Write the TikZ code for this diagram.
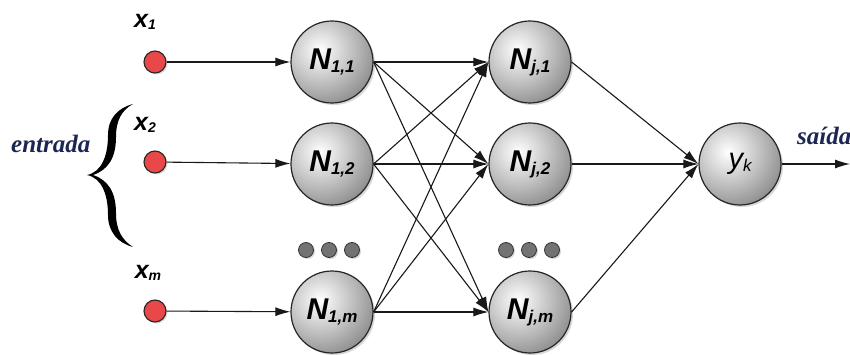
\documentclass[tikz,border=0pt]{standalone}
\usepackage{fontspec}
\setmainfont{Liberation Serif}
\newfontfamily\lsans{Liberation Sans}
\usetikzlibrary{arrows.meta,shadows}
\newcommand\nsub[1]{\raisebox{-3pt}{\fontsize{17}{17}\selectfont #1}}
\newcommand\xsub[1]{\raisebox{-2pt}{\fontsize{14}{14}\selectfont #1}}
\tikzset{
  neuron/.style={circle, draw=black!85, line width=1.2pt, minimum size=82pt, inner sep=0pt,
    drop shadow={opacity=0.3,shadow xshift=2pt,shadow yshift=-2pt},
    path picture={\shade[inner color=white, outer color=black!55]
      ([xshift=-12pt,yshift=12pt]path picture bounding box.center) circle (72pt);},
    font=\lsans\bfseries\itshape\fontsize{30}{30}\selectfont},
  inp/.style={circle, draw=black!85, line width=1.1pt, minimum size=22pt, inner sep=0pt,
    fill={rgb,255:red,232;green,72;blue,72},
    drop shadow={opacity=0.3,shadow xshift=1.5pt,shadow yshift=-1.5pt}},
  dotn/.style={circle, draw=black!80, line width=0.8pt, minimum size=15pt, inner sep=0pt,
    fill=black!55, drop shadow={opacity=0.3,shadow xshift=1.5pt,shadow yshift=-1.5pt}},
  xlab/.style={anchor=base, inner sep=0pt, font=\lsans\bfseries\itshape\fontsize{25}{25}\selectfont},
  wlab/.style={anchor=base west, inner sep=0pt, text={rgb,255:red,28;green,38;blue,82},
    font=\bfseries\itshape\fontsize{25}{25}\selectfont},
  conn/.style={line width=1.1pt, draw=black!90, -{Latex[length=15pt,width=9pt]}}
}
\begin{document}
\begin{tikzpicture}[x=1pt,y=-1pt]
\useasboundingbox[fill=white] (0,0) rectangle (850,355);

% brace
\fill[black] (133,104)
  .. controls (118,108) and (108,118) .. (108,135)
  .. controls (108,155) and (102,172) .. (87,175)
  .. controls (102,178) and (108,195) .. (108,215)
  .. controls (108,232) and (118,243) .. (133,247)
  .. controls (122,240) and (116,230) .. (116,213)
  .. controls (116,192) and (108,180) .. (93,175)
  .. controls (108,170) and (116,158) .. (116,137)
  .. controls (116,120) and (122,110) .. (133,104) -- cycle;

\node[wlab] (ent) at (11,153) {entrada};

% inputs
\node[inp] (i1) at (155,62) {};
\node[inp] (i2) at (155,162) {};
\node[inp] (im) at (155,311) {};
\node[xlab] (l1) at (145,28) {x\xsub{1}};
\node[xlab] (l2) at (145,131) {x\xsub{2}};
\node[xlab] (lm) at (148,278) {x\xsub{m}};

% hidden layer 1
\node[neuron] (a1) at (332,62) {N\nsub{1,1}};
\node[neuron] (a2) at (332,164) {N\nsub{1,2}};
\node[neuron] (am) at (332,312) {N\nsub{1,m}};
% hidden layer j
\node[neuron] (b1) at (530,62) {N\nsub{j,1}};
\node[neuron] (b2) at (530,164) {N\nsub{j,2}};
\node[neuron] (bm) at (530,312) {N\nsub{j,m}};
% output
\node[neuron, font=\lsans\itshape\fontsize{29}{29}\selectfont] (y) at (740,164) {y\nsub{k}};

% ellipsis dots
\node[dotn] (d1) at (306,250) {};
\node[dotn] (d2) at (329,250) {};
\node[dotn] (d3) at (352,250) {};
\node[dotn] (d4) at (506,250) {};
\node[dotn] (d5) at (529,250) {};
\node[dotn] (d6) at (552,250) {};

% connectors
\draw[conn] (i1) -- (a1);
\draw[conn] (i2) -- (a2);
\draw[conn] (im) -- (am);
\foreach \s in {a1,a2,am}{
  \foreach \t in {b1,b2,bm}{
    \draw[conn] (\s.east) -- (\t.west);
  }
}
\foreach \s in {b1,b2,bm}{
  \draw[conn] (\s.east) -- (y.west);
}
\coordinate (out) at (850,164);
\draw[conn] (y) -- (out);
\node[wlab] (sai) at (797,145) {saída};
\end{tikzpicture}
\end{document}
